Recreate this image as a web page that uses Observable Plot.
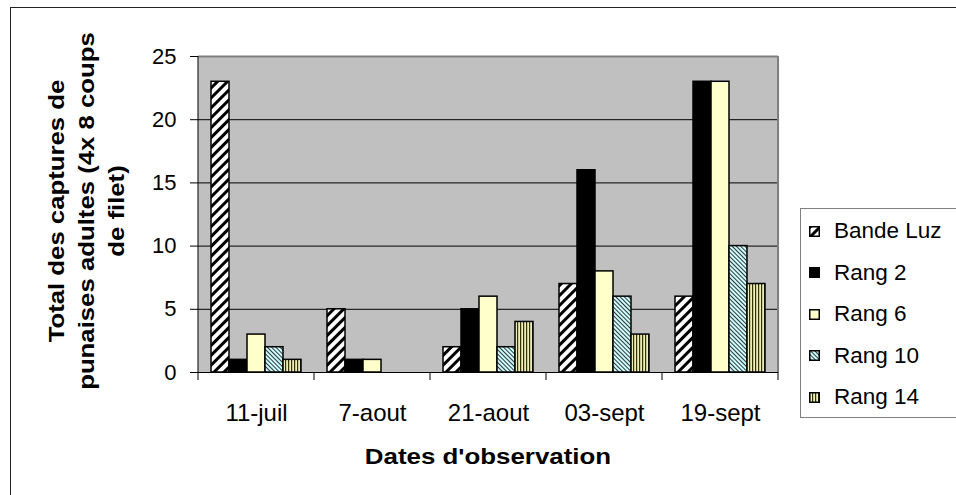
<!DOCTYPE html>
<html><head><meta charset="utf-8">
<script src="https://cdn.jsdelivr.net/npm/d3@7"></script>
<script src="https://cdn.jsdelivr.net/npm/@observablehq/plot@0.6"></script>
<style>
html,body{margin:0;padding:0;background:#fff;}
#wrap{position:relative;width:956px;height:495px;overflow:hidden;font-family:"Liberation Sans",Arial,sans-serif;color:#000;}
#outer{position:absolute;left:10px;top:7px;width:1000px;height:600px;border-left:1.5px solid #222;border-top:1.5px solid #222;}
#chart{position:absolute;left:0;top:0;}
#legend{position:absolute;left:800px;top:208px;width:200px;height:208px;border:1px solid #808080;background:#fff;}
.li{position:absolute;left:8px;height:26px;display:flex;align-items:center;font-size:22.5px;white-space:nowrap;}
.li svg{margin-right:14px;}
#xtitle{position:absolute;left:278px;width:420px;top:444px;text-align:center;font-weight:bold;font-size:22.5px;transform:scaleX(1.15);}
#ytitle{position:absolute;left:87px;top:211px;width:460px;transform:translate(-50%,-50%) rotate(-90deg) scaleX(1.17);text-align:center;font-weight:bold;font-size:22px;line-height:30px;white-space:nowrap;}
</style>
</head><body>
<svg width="0" height="0" style="position:absolute">
 <defs>
  <pattern id="pat-luz" patternUnits="userSpaceOnUse" width="7" height="7" patternTransform="rotate(45)">
   <rect width="7" height="7" fill="#fff"/><rect width="3" height="7" fill="#000"/>
  </pattern>
  <pattern id="pat-r10" patternUnits="userSpaceOnUse" width="3" height="3" patternTransform="rotate(-45)">
   <rect width="3" height="3" fill="#ccffff"/><rect width="1" height="3" fill="#333"/>
  </pattern>
  <pattern id="pat-r14" patternUnits="userSpaceOnUse" width="3" height="3">
   <rect width="3" height="3" fill="#eeeebb"/><rect width="1.2" height="3" fill="#333300"/>
  </pattern>
 </defs>
</svg>
<div id="wrap">
 <div id="outer"></div>
 <div id="chart"></div>
 <div id="ytitle">Total des captures de<br>punaises adultes (4x 8 coups<br>de filet)</div>
 <div id="xtitle">Dates d'observation</div>
 <div id="legend"></div>
</div>
<script>
const dates = ["11-juil", "7-aout", "21-aout", "03-sept", "19-sept"];
const series = ["Bande Luz", "Rang 2", "Rang 6", "Rang 10", "Rang 14"];
const bandeLuz = [23, 5, 2, 7, 6];
const rang2 = [1, 1, 5, 16, 23];
const rang6 = [3, 1, 6, 8, 23];
const rang10 = [2, 0, 2, 6, 10];
const rang14 = [1, 0, 4, 3, 7];
const yTicks = [0, 5, 10, 15, 20, 25];
const fills = ["url(#pat-luz)", "#000000", "#ffffcc", "url(#pat-r10)", "url(#pat-r14)"];

const valuesBySeries = [bandeLuz, rang2, rang6, rang10, rang14];
const rows = [];
dates.forEach((d, i) => series.forEach((s, j) => {
  const v = valuesBySeries[j][i];
  if (v > 0) rows.push({date: d, series: s, value: v});
}));

const plot = Plot.plot({
  width: 956, height: 495,
  marginLeft: 198, marginRight: 178, marginTop: 56, marginBottom: 123,
  facet: {data: rows, x: "date"},
  fx: {domain: dates, padding: 0, label: null},
  x: {domain: series, paddingInner: 0, paddingOuter: 0.58, axis: null},
  y: {domain: [0, 25], label: null},
  color: {domain: series, range: fills},
  style: {fontFamily: "'Liberation Sans', Arial, sans-serif", fontSize: "21px", color: "#000", background: "transparent", overflow: "visible"},
  marks: [
    Plot.frame({fill: "#c0c0c0", stroke: "none", insetLeft: -0.6, insetRight: -0.6}),
    Plot.gridY(yTicks.slice(1, -1), {stroke: "#000", strokeOpacity: 1, strokeWidth: 1}),
    Plot.ruleY([25], {stroke: "#808080", strokeWidth: 2}),
    Plot.barY(rows, {x: "series", y: "value", fill: "series", stroke: "#000", strokeWidth: 1.5}),
    Plot.ruleY([0], {stroke: "#000", strokeWidth: 1}),
    Plot.axisY({ticks: yTicks, tickSize: 8, tickPadding: 14, fontSize: 22, label: null, tickFormat: d => d}),
    Plot.axisFx({anchor: "bottom", tickSize: 0, tickPadding: 31, fontSize: 24, label: null})
  ]
});
document.getElementById("chart").appendChild(plot);

// decorations derived from the scales: axis line, right border, category boundary ticks
const fx = plot.scale("fx"), y = plot.scale("y");
const svg = d3.select(plot);
const left = fx.apply(dates[0]);
const right = fx.apply(dates[dates.length - 1]) + fx.bandwidth;
const y0 = y.apply(0), yTop = y.apply(25);
const g = svg.append("g");
g.append("line").attr("x1", right).attr("x2", right).attr("y1", yTop).attr("y2", y0).attr("stroke", "#808080").attr("stroke-width", 2);
g.append("line").attr("x1", left).attr("x2", left).attr("y1", yTop).attr("y2", y0).attr("stroke", "#000");
const bounds = dates.map(d => fx.apply(d)).concat([right]);
bounds.forEach(b => g.append("line").attr("x1", b).attr("x2", b).attr("y1", y0).attr("y2", y0 + 8).attr("stroke", "#000"));

// legend
const leg = document.getElementById("legend");
series.forEach((s, i) => {
  const row = document.createElement("div");
  row.className = "li";
  row.style.top = (9 + i * 41.6) + "px";
  row.innerHTML = `<svg width="11" height="11"><rect x="0.75" y="0.75" width="9.5" height="9.5" fill="${fills[i]}" stroke="#000" stroke-width="1.5"/></svg><span>${s}</span>`;
  leg.appendChild(row);
});
</script>
</body></html>
